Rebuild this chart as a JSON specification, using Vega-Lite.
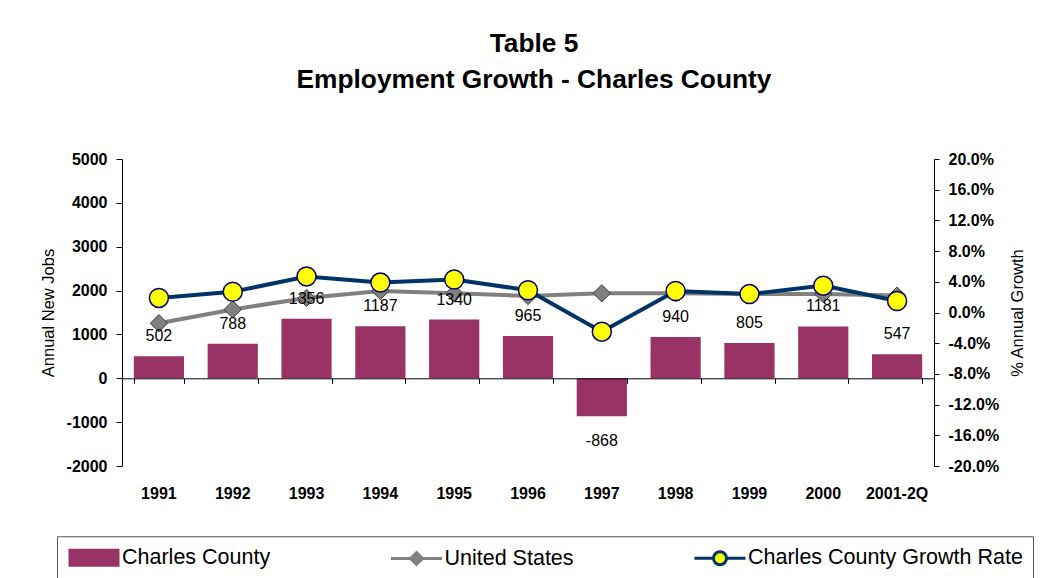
{
  "$schema": "https://vega.github.io/schema/vega-lite/v6.json",
  "width": 812,
  "height": 307,
  "autosize": {"type": "none"},
  "padding": {"left": 122, "top": 159, "right": 113, "bottom": 112},
  "background": "white",
  "config": {
    "font": "Liberation Sans",
    "locale": {"number": {"decimal": ".", "thousands": ",", "grouping": [3], "currency": ["$", ""], "minus": "-"}},
    "view": {"stroke": null},
    "axis": {"grid": false, "domainColor": "#000000", "tickColor": "#000000", "labelColor": "#000000", "titleColor": "#000000", "labelFont": "Liberation Sans", "titleFont": "Liberation Sans", "labelOverlap": false}
  },
  "title": {
    "text": ["Table 5", "Employment Growth - Charles County"],
    "fontSize": 26.3,
    "fontWeight": "bold",
    "lineHeight": 36,
    "anchor": "middle",
    "offset": 58,
    "dx": 6,
    "color": "#000000",
    "font": "Liberation Sans"
  },
  "data": {
    "values": [
      {"year": "1991", "jobs": 502, "us": -0.014, "growth": 0.019},
      {"year": "1992", "jobs": 788, "us": 0.004, "growth": 0.027},
      {"year": "1993", "jobs": 1356, "us": 0.019, "growth": 0.047},
      {"year": "1994", "jobs": 1187, "us": 0.028, "growth": 0.039},
      {"year": "1995", "jobs": 1340, "us": 0.025, "growth": 0.043},
      {"year": "1996", "jobs": 965, "us": 0.0215, "growth": 0.029},
      {"year": "1997", "jobs": -868, "us": 0.025, "growth": -0.025},
      {"year": "1998", "jobs": 940, "us": 0.025, "growth": 0.028},
      {"year": "1999", "jobs": 805, "us": 0.024, "growth": 0.024},
      {"year": "2000", "jobs": 1181, "us": 0.024, "growth": 0.035},
      {"year": "2001-2Q", "jobs": 547, "us": 0.022, "growth": 0.015}
    ]
  },
  "resolve": {"scale": {"y": "independent"}, "axis": {"x": "independent"}},
  "layer": [
    {
      "mark": {"type": "bar"},
      "encoding": {
        "x": {
          "field": "year", "type": "ordinal", "sort": null,
          "scale": {"paddingInner": 0.32, "paddingOuter": 0.16},
          "axis": {"orient": "bottom", "offset": -87.7, "labels": false, "ticks": true, "tickBand": "extent", "tickSize": 5, "domain": true, "title": null, "zindex": 1}
        },
        "y": {
          "field": "jobs", "type": "quantitative",
          "scale": {"domain": [-2000, 5000], "nice": false},
          "axis": {"orient": "left", "values": [-2000, -1000, 0, 1000, 2000, 3000, 4000, 5000], "format": "d", "labelFontWeight": "bold", "labelFontSize": 16, "tickSize": 6, "labelPadding": 9, "labelOverlap": false, "title": "Annual New Jobs", "titleFontSize": 16.5, "titleFontWeight": "normal", "titlePadding": 10}
        },
        "color": {
          "datum": "Charles County", "type": "nominal",
          "scale": {"domain": ["Charles County", "United States", "Charles County Growth Rate"], "range": ["#993366", "#808080", "#FFFF00"]},
          "legend": {
            "orient": "none", "legendX": -65, "legendY": 377.25, "direction": "horizontal", "title": null,
            "symbolSize": 400, "labelFontSize": 21.5, "labelFont": "Liberation Sans", "labelColor": "#000000",
            "labelOffset": 32, "labelLimit": 400, "columnPadding": 113.5, "padding": 10,
            "strokeColor": "#555555", "fillColor": "#ffffff",
            "encode": {
              "symbols": {
                "update": {
                  "shape": {"signal": "datum.value === 'Charles County' ? 'M-0.85,-0.75H3.95V0.75H-0.85Z' : (datum.value === 'United States' ? 'M-1,0H0.95M0.95,0L1.55,-0.6L2.15,0L1.55,0.6ZM2.15,0H4.1' : 'M-1,0H0.9M0.9,0A0.65,0.65 0 1,1 2.2,0A0.65,0.65 0 1,1 0.9,0ZM2.2,0H4.1')"},
                  "stroke": {"signal": "datum.value === 'Charles County' ? '#993366' : (datum.value === 'United States' ? '#808080' : '#003366')"},
                  "strokeWidth": {"value": 3},
                  "opacity": {"value": 1},
                  "fillOpacity": {"value": 1}
                }
              }
            }
          }
        }
      }
    },
    {
      "layer": [
        {
          "mark": {"type": "line", "strokeWidth": 4, "stroke": "#808080"},
          "encoding": {
            "x": {"field": "year", "type": "ordinal", "sort": null, "axis": null},
            "y": {
              "field": "us", "type": "quantitative",
              "scale": {"domain": [-0.2, 0.2], "nice": false},
              "axis": {"orient": "right", "values": [-0.2, -0.16, -0.12, -0.08, -0.04, 0, 0.04, 0.08, 0.12, 0.16, 0.2], "format": ".1%", "labelFontWeight": "bold", "labelFontSize": 16, "tickSize": 5, "labelPadding": 9, "labelOverlap": false, "title": "% Annual Growth", "titleFontSize": 16.5, "titleFontWeight": "normal", "titleAngle": 270, "titleBaseline": "top", "titlePadding": 11}
            }
          }
        },
        {
          "mark": {"type": "point", "shape": "diamond", "filled": true, "size": 300, "fill": "#808080", "stroke": "#404040", "strokeWidth": 1, "opacity": 1},
          "encoding": {
            "x": {"field": "year", "type": "ordinal", "sort": null, "axis": null},
            "y": {"field": "us", "type": "quantitative", "axis": {"orient": "right", "values": [-0.2, -0.16, -0.12, -0.08, -0.04, 0, 0.04, 0.08, 0.12, 0.16, 0.2], "format": ".1%", "labelFontWeight": "bold", "labelFontSize": 16, "tickSize": 5, "labelPadding": 9, "labelOverlap": false, "title": "% Annual Growth", "titleFontSize": 16.5, "titleFontWeight": "normal", "titleAngle": 270, "titleBaseline": "top", "titlePadding": 11}}
          }
        },
        {
          "mark": {"type": "line", "strokeWidth": 4, "stroke": "#003366"},
          "encoding": {
            "x": {"field": "year", "type": "ordinal", "sort": null, "axis": null},
            "y": {"field": "growth", "type": "quantitative", "axis": {"orient": "right", "values": [-0.2, -0.16, -0.12, -0.08, -0.04, 0, 0.04, 0.08, 0.12, 0.16, 0.2], "format": ".1%", "labelFontWeight": "bold", "labelFontSize": 16, "tickSize": 5, "labelPadding": 9, "labelOverlap": false, "title": "% Annual Growth", "titleFontSize": 16.5, "titleFontWeight": "normal", "titleAngle": 270, "titleBaseline": "top", "titlePadding": 11}}
          }
        },
        {
          "mark": {"type": "point", "shape": "circle", "filled": true, "size": 361, "fill": "#FFFF00", "stroke": "#000080", "strokeWidth": 1.5, "opacity": 1},
          "encoding": {
            "x": {"field": "year", "type": "ordinal", "sort": null, "axis": null},
            "y": {"field": "growth", "type": "quantitative", "axis": {"orient": "right", "values": [-0.2, -0.16, -0.12, -0.08, -0.04, 0, 0.04, 0.08, 0.12, 0.16, 0.2], "format": ".1%", "labelFontWeight": "bold", "labelFontSize": 16, "tickSize": 5, "labelPadding": 9, "labelOverlap": false, "title": "% Annual Growth", "titleFontSize": 16.5, "titleFontWeight": "normal", "titleAngle": 270, "titleBaseline": "top", "titlePadding": 11}}
          }
        }
      ]
    },
    {
      "layer": [
        {
          "transform": [{"filter": "datum.jobs >= 0"}],
          "mark": {"type": "text", "dy": -20, "fontSize": 16, "color": "#000000", "baseline": "middle"},
          "encoding": {
            "x": {"field": "year", "type": "ordinal", "sort": null, "axis": {"orient": "bottom", "domain": false, "ticks": false, "tickSize": 0, "labelPadding": 19, "labelFontWeight": "bold", "labelFontSize": 16, "labelAngle": 0, "title": null}},
            "y": {"field": "jobs", "type": "quantitative", "scale": {"domain": [-2000, 5000], "nice": false}, "axis": null},
            "text": {"field": "jobs", "type": "quantitative", "format": "d"}
          }
        },
        {
          "transform": [{"filter": "datum.jobs < 0"}],
          "mark": {"type": "text", "dy": 25, "fontSize": 16, "color": "#000000", "baseline": "middle"},
          "encoding": {
            "x": {"field": "year", "type": "ordinal", "sort": null},
            "y": {"field": "jobs", "type": "quantitative", "axis": null},
            "text": {"field": "jobs", "type": "quantitative", "format": "d"}
          }
        }
      ]
    }
  ]
}
